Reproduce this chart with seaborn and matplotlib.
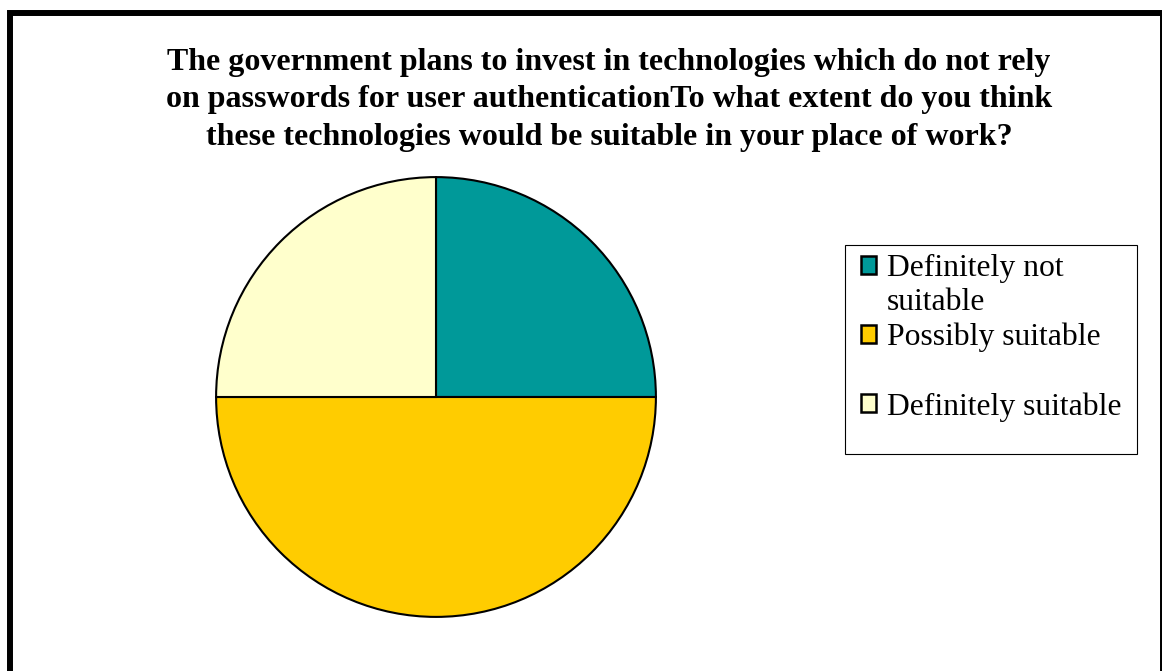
import matplotlib
matplotlib.use("Agg")
import matplotlib.pyplot as plt
import matplotlib.patches as mpatches
import seaborn as sns

# Survey responses (share of respondents)
categories = ["Definitely not suitable", "Possibly suitable", "Definitely suitable"]
shares = [25, 50, 25]
colors = ["#009999", "#FFCC00", "#FFFFCC"]

# Legend rows: the first label wraps onto a second line, and there is a
# spare blank row before the last entry
legend_rows = [("Definitely not", 0), ("suitable", None),
               ("Possibly suitable", 1), ("", None),
               ("Definitely suitable", 2)]

title = ("The government plans to invest in technologies which do not rely\n"
         "on passwords for user authenticationTo what extent do you think\n"
         "these technologies would be suitable in your place of work?")

sns.set_theme(style="white")
plt.rcParams["font.family"] = ["Liberation Serif", "DejaVu Serif"]
plt.rcParams["text.color"] = "black"

W, H = 1162, 671
fig = plt.figure(figsize=(W / 100, H / 100), dpi=100)
fig.patch.set_facecolor("white")

# Pie axes: centre and radius in pixels
cx, cy, r = 436, 397, 221
ax = fig.add_axes([(cx - r) / W, (H - cy - r) / H, 2 * r / W, 2 * r / H])
wedges, _ = ax.pie(shares, colors=colors, startangle=90, counterclock=False,
                   radius=1.0,
                   wedgeprops=dict(edgecolor="black", linewidth=1.5))
ax.set_xlim(-1.005, 1.005)
ax.set_ylim(-1.005, 1.005)
ax.set_aspect("equal")
ax.axis("off")

fig.text(609 / W, 1 - 100 / H, title, ha="center", va="center",
         fontsize=23, fontweight="bold", linespacing=1.4, color="black")

handles, labels = [], []
for text, idx in legend_rows:
    if idx is None:
        handles.append(mpatches.Patch(facecolor="none", edgecolor="none"))
    else:
        handles.append(mpatches.Patch(facecolor=colors[idx], edgecolor="black",
                                      linewidth=1.8, label=categories[idx]))
    labels.append(text)

leg = fig.legend(handles, labels, loc="upper left",
                 bbox_to_anchor=(861 / W, 1 - 254 / H),
                 fontsize=22.8, frameon=False,
                 handlelength=0.48, handleheight=0.48, handletextpad=0.33,
                 labelspacing=0.17, borderpad=0, borderaxespad=0)

# Legend box
fig.patches.append(mpatches.Rectangle((845 / W, 1 - 454 / H), (1137 - 845) / W,
                                      (454 - 245) / H, transform=fig.transFigure,
                                      fill=False, edgecolor="black", linewidth=0.8))

# Outer frame of the chart area
frame = mpatches.Rectangle((10 / W, -0.1), (1163 - 10) / W, (1 - 12.5 / H) + 0.1,
                           transform=fig.transFigure, fill=False,
                           edgecolor="black", linewidth=4.3, clip_on=False)
fig.patches.append(frame)

fig.savefig("out.png", dpi=100)
